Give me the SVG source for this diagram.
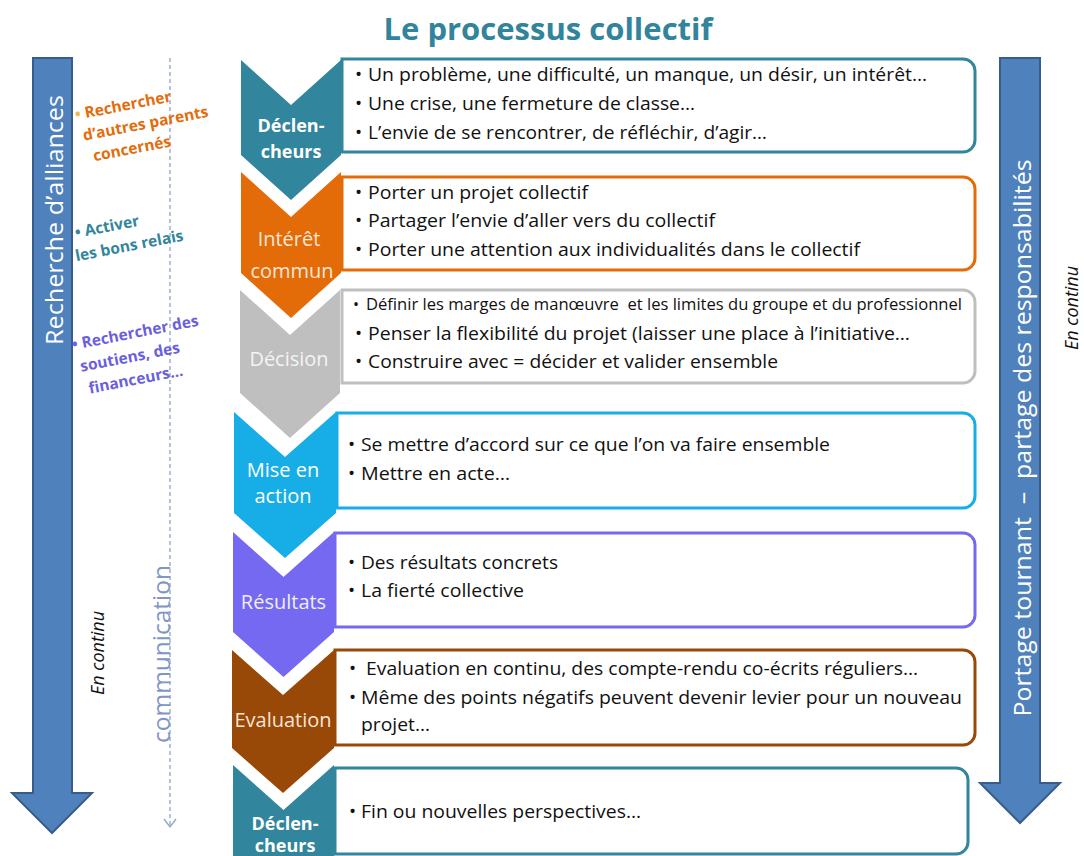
<svg xmlns="http://www.w3.org/2000/svg" width="1084" height="856" viewBox="0 0 1084 856">
<style>
text{font-family:"Open Sans","Liberation Sans",sans-serif}
.title{font-size:30px;font-weight:700;fill:#31849B}
.bx{fill:#fff;stroke-width:3}
.t{font-size:19px;fill:#111}
.t16{font-size:16px;fill:#111}
.lab{font-size:20px;text-anchor:middle}
.labb{font-size:18px;font-weight:700;text-anchor:middle;fill:#fff}
.big{fill:#4F81BD;stroke:#385D8A;stroke-width:2}
.bigt{font-size:24px;fill:#fff;text-anchor:middle;dominant-baseline:central}
.it{font-size:18px;font-style:italic;fill:#111;text-anchor:middle;dominant-baseline:central}
.side{font-size:15.5px;font-weight:700}
</style>

<text class="title" x="548" y="40" text-anchor="middle" textLength="329" lengthAdjust="spacingAndGlyphs">Le processus collectif</text>

<g id="arrow-left">
<path class="big" d="M33,58 H72 V793 H92 L52,833 L12,793 H33 Z"/>
<text class="bigt" transform="translate(53,220) rotate(-90)" textLength="250" lengthAdjust="spacingAndGlyphs">Recherche d’alliances</text>
</g>

<g id="arrow-right">
<path class="big" d="M1000,58 H1040 V783 H1060 L1020,823 L980,783 H1000 Z"/>
<text class="bigt" transform="translate(1021,438) rotate(-90)" textLength="557" lengthAdjust="spacingAndGlyphs" xml:space="preserve">Portage tournant  –  partage des responsabilités</text>
</g>

<g id="connectors">
<path d="M170,58 V826" fill="none" stroke="#8FA3C6" stroke-width="1.3" stroke-dasharray="4 3"/>
<polyline points="164,819 170,827 176,819" fill="none" stroke="#8FA3C6" stroke-width="1.3"/>
</g>

<g id="label-communication">
<text transform="translate(160,654) rotate(-90)" font-size="24" fill="#8096C4" text-anchor="middle" dominant-baseline="central" textLength="178" lengthAdjust="spacingAndGlyphs">communication</text>
</g>
<g id="label-encontinu-left">
<text class="it" transform="translate(97,653) rotate(-90)">En continu</text>
</g>
<g id="label-encontinu-right">
<text class="it" transform="translate(1071,308) rotate(-90)">En continu</text>
</g>

<g id="alliance-1" transform="translate(76,120) rotate(-11)">
<text class="side" fill="#E46C0A"><tspan x="0" y="0"><tspan fill="#F2B84B">•</tspan> Rechercher</tspan><tspan x="4" y="22">d’autres parents</tspan><tspan x="10" y="44">concernés</tspan></text>
</g>
<g id="alliance-2" transform="translate(76,238) rotate(-11)">
<text class="side" fill="#31859C"><tspan x="0" y="0">• Activer</tspan><tspan x="-4" y="23">les bons relais</tspan></text>
</g>
<g id="alliance-3" transform="translate(73,350) rotate(-11)">
<text class="side" fill="#6B5FE0"><tspan x="0" y="0">• Rechercher des</tspan><tspan x="4" y="23">soutiens, des</tspan><tspan x="8" y="46">financeurs…</tspan></text>
</g>

<g id="step1">
<path class="bx" stroke="#31859C" d="M342,59 H963 A12,12 0 0 1 975,71 V140 A12,12 0 0 1 963,152 H342 Z"/>
<path fill="#31859C" d="M241,60 L291,105 L341,60 L341,155 L291,200 L241,155 Z"/>
<text class="labb"><tspan x="291" y="132">Déclen-</tspan><tspan x="291" y="158">cheurs</tspan></text>
<text class="t"><tspan x="355" y="81">•</tspan><tspan x="368" y="81" textLength="559" lengthAdjust="spacingAndGlyphs">Un problème, une difficulté, un manque, un désir, un intérêt…</tspan></text>
<text class="t"><tspan x="355" y="110">•</tspan><tspan x="368" y="110" textLength="327" lengthAdjust="spacingAndGlyphs">Une crise, une fermeture de classe…</tspan></text>
<text class="t"><tspan x="355" y="139">•</tspan><tspan x="368" y="139" textLength="399" lengthAdjust="spacingAndGlyphs">L’envie de se rencontrer, de réfléchir, d’agir…</tspan></text>
</g>

<g id="step2">
<path class="bx" stroke="#E36C09" d="M342,177 H963 A12,12 0 0 1 975,189 V258 A12,12 0 0 1 963,270 H342 Z"/>
<path fill="#E36C09" d="M241,172 L291,217 L341,172 L341,273 L291,318 L241,273 Z"/>
<text class="lab" fill="#FBE5D6"><tspan x="289" y="246">Intérêt</tspan><tspan x="292" y="278">commun</tspan></text>
<text class="t"><tspan x="355" y="199">•</tspan><tspan x="368" y="199" textLength="220" lengthAdjust="spacingAndGlyphs">Porter un projet collectif</tspan></text>
<text class="t"><tspan x="355" y="227">•</tspan><tspan x="368" y="227" textLength="347" lengthAdjust="spacingAndGlyphs">Partager l’envie d’aller vers du collectif</tspan></text>
<text class="t"><tspan x="355" y="256">•</tspan><tspan x="368" y="256" textLength="492" lengthAdjust="spacingAndGlyphs">Porter une attention aux individualités dans le collectif</tspan></text>
</g>

<g id="step3">
<path class="bx" stroke="#BFBFBF" d="M342,290 H963 A12,12 0 0 1 975,302 V371 A12,12 0 0 1 963,383 H342 Z"/>
<path fill="#BFBFBF" d="M240,290 L290,335 L340,290 L340,393 L290,438 L240,393 Z"/>
<text class="lab" fill="#F4F4F4" x="289" y="366">Décision</text>
<text class="t16"><tspan x="353" y="310">•</tspan><tspan x="366" y="310" textLength="596" lengthAdjust="spacingAndGlyphs" xml:space="preserve">Définir les marges de manœuvre  et les limites du groupe et du professionnel</tspan></text>
<text class="t"><tspan x="355" y="340">•</tspan><tspan x="368" y="340" textLength="542" lengthAdjust="spacingAndGlyphs">Penser la flexibilité du projet (laisser une place à l’initiative…</tspan></text>
<text class="t"><tspan x="355" y="368">•</tspan><tspan x="368" y="368" textLength="410" lengthAdjust="spacingAndGlyphs">Construire avec = décider et valider ensemble</tspan></text>
</g>

<g id="step4">
<path class="bx" stroke="#17ADE6" d="M337,413 H963 A12,12 0 0 1 975,425 V496 A12,12 0 0 1 963,508 H337 Z"/>
<path fill="#17ADE6" d="M234,412 L285,457 L336,412 L336,513 L285,558 L234,513 Z"/>
<text class="lab" fill="#fff"><tspan x="283" y="477">Mise en</tspan><tspan x="283" y="503">action</tspan></text>
<text class="t"><tspan x="348" y="451">•</tspan><tspan x="361" y="451" textLength="469" lengthAdjust="spacingAndGlyphs">Se mettre d’accord sur ce que l’on va faire ensemble</tspan></text>
<text class="t"><tspan x="348" y="480">•</tspan><tspan x="361" y="480" textLength="149" lengthAdjust="spacingAndGlyphs">Mettre en acte…</tspan></text>
</g>

<g id="step5">
<path class="bx" stroke="#7469F0" d="M335,533 H963 A12,12 0 0 1 975,545 V615 A12,12 0 0 1 963,627 H335 Z"/>
<path fill="#7469F0" d="M233,532 L283.5,577 L334,532 L334,632 L283.5,677 L233,632 Z"/>
<text class="lab" fill="#EEEEFF" x="283.5" y="609">Résultats</text>
<text class="t"><tspan x="348" y="569">•</tspan><tspan x="361" y="569" textLength="197" lengthAdjust="spacingAndGlyphs">Des résultats concrets</tspan></text>
<text class="t"><tspan x="348" y="597">•</tspan><tspan x="361" y="597" textLength="163" lengthAdjust="spacingAndGlyphs">La fierté collective</tspan></text>
</g>

<g id="step6">
<path class="bx" stroke="#984807" d="M335,650 H963 A12,12 0 0 1 975,662 V733 A12,12 0 0 1 963,745 H335 Z"/>
<path fill="#984807" d="M232,650 L283,695 L334,650 L334,748 L283,793 L232,748 Z"/>
<text class="lab" fill="#FBE5D6" x="283" y="727">Evaluation</text>
<text class="t"><tspan x="349" y="675">•</tspan><tspan x="366" y="675" textLength="552" lengthAdjust="spacingAndGlyphs">Evaluation en continu, des compte-rendu co-écrits réguliers…</tspan></text>
<text class="t"><tspan x="349" y="704">•</tspan><tspan x="361" y="704" textLength="601" lengthAdjust="spacingAndGlyphs">Même des points négatifs peuvent devenir levier pour un nouveau</tspan></text>
<text class="t" x="361" y="731" textLength="69" lengthAdjust="spacingAndGlyphs">projet…</text>
</g>

<g id="step7">
<path class="bx" stroke="#31859C" d="M335,768 H956 A12,12 0 0 1 968,780 V842 A12,12 0 0 1 956,854 H335 Z"/>
<path fill="#31859C" d="M233,765 L283.5,810 L334,765 L334,870 L283.5,915 L233,870 Z"/>
<text class="labb"><tspan x="285" y="830">Déclen-</tspan><tspan x="285" y="852">cheurs</tspan></text>
<text class="t"><tspan x="349" y="818">•</tspan><tspan x="361" y="818" textLength="280" lengthAdjust="spacingAndGlyphs">Fin ou nouvelles perspectives…</tspan></text>
</g>
</svg>
